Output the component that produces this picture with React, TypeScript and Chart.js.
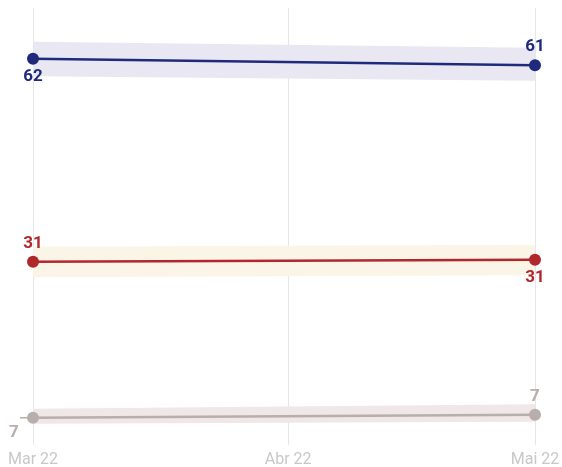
import React, { useEffect, useRef } from "react";
import { Chart, registerables } from "chart.js";

Chart.register(...registerables);

// x axis: days since 1 Mar 2022
const tickLabels = ["Mar 22", "Abr 22", "Mai 22"];
const tickDays = [0, 31, 61];
const pointDays = [0, 61]; // observations at Mar 22 and Mai 22

const blueValues = [62.2, 61.2];
const blueUpper = [64.8, 63.9];
const blueLower = [59.5, 58.8];

const redValues = [31.0, 31.3];
const redUpper = [33.3, 33.6];
const redLower = [28.6, 28.9];

const greyValues = [7.0, 7.45];
const greyUpper = [8.4, 9.1];
const greyLower = [6.1, 6.4];

const BLUE = "#1f2a7c";
const RED = "#b0282c";
const GREY = "#b8aeab";

// label placement per series: [Mar, Mai]
const labelPos: Record<string, string[]> = {
  blue: ["below", "above"],
  red: ["above", "below"],
  grey: ["belowLeft", "above"],
};

const toXY = (vals: number[]) => vals.map((y, i) => ({ x: pointDays[i], y }));

const valueLabels = {
  id: "valueLabels",
  afterDatasetsDraw(chart: any) {
    const ctx = chart.ctx;
    ctx.save();
    ctx.font = "bold 17px Roboto";
    ctx.textAlign = "center";
    ctx.textBaseline = "middle";
    chart.data.datasets.forEach((ds: any, i: number) => {
      if (!ds.seriesKey) return;
      const meta = chart.getDatasetMeta(i);
      const pos = labelPos[ds.seriesKey];
      ds.data.forEach((d: any, j: number) => {
        const el = meta.data[j];
        const p = pos[j];
        ctx.fillStyle = ds.borderColor;
        let x = el.x;
        let y = el.y;
        if (p === "above") y -= 18;
        else if (p === "below") y += 18;
        else {
          x -= 19;
          y += 15;
          ctx.strokeStyle = ds.borderColor;
          ctx.lineWidth = 1.5;
          ctx.beginPath();
          ctx.moveTo(el.x - 13, el.y);
          ctx.lineTo(el.x, el.y);
          ctx.stroke();
        }
        ctx.fillText(String(Math.round(d.y)), x, y);
      });
    });
    ctx.restore();
  },
};

function band(lower: number[], upper: number[], color: string) {
  return [
    {
      data: toXY(lower),
      borderWidth: 0,
      pointRadius: 0,
      fill: false,
      order: 5,
      borderColor: "transparent",
    },
    {
      data: toXY(upper),
      borderWidth: 0,
      pointRadius: 0,
      fill: "-1",
      backgroundColor: color,
      borderColor: "transparent",
      order: 5,
    },
  ];
}

function line(values: number[], color: string, key: string) {
  return {
    data: toXY(values),
    seriesKey: key,
    borderColor: color,
    backgroundColor: color,
    borderWidth: 2.5,
    pointRadius: 6,
    pointHoverRadius: 6,
    pointBackgroundColor: color,
    pointBorderWidth: 0,
    fill: false,
    clip: false,
    order: 1,
  };
}

export default function App() {
  const ref = useRef<HTMLCanvasElement>(null);
  useEffect(() => {
    const chart = new Chart(ref.current!, {
      type: "line",
      data: {
        datasets: [
          ...band(blueLower, blueUpper, "#e9e8f2"),
          ...band(redLower, redUpper, "#faf5e6"),
          ...band(greyLower, greyUpper, "#efe7e8"),
          line(blueValues, BLUE, "blue"),
          line(redValues, RED, "red"),
          line(greyValues, GREY, "grey"),
        ] as any,
      },
      options: {
        animation: false,
        responsive: false,
        layout: { padding: { left: 33, right: 27, top: 8, bottom: 0 } },
        plugins: { legend: { display: false }, tooltip: { enabled: false } },
        scales: {
          x: {
            type: "linear",
            min: tickDays[0],
            max: tickDays[tickDays.length - 1],
            border: { display: false },
            grid: { color: "#e6e6e6", lineWidth: 1, tickLength: 14 },
            afterBuildTicks: (scale: any) => {
              scale.ticks = tickDays.map((v) => ({ value: v }));
            },
            ticks: {
              color: "#c8c8c8",
              font: { family: "Roboto", size: 16 },
              padding: 6,
              maxRotation: 0,
              autoSkip: false,
              callback: (v: any) => tickLabels[tickDays.indexOf(Number(v))] ?? "",
            },
            afterFit: (scale: any) => {
              scale.paddingLeft = 0;
              scale.paddingRight = 0;
            },
          },
          y: {
            display: false,
            min: 5,
            max: 70,
          },
        },
      },
      plugins: [valueLabels],
    });
    return () => chart.destroy();
  }, []);
  return (
    <div
      style={{
        position: "absolute",
        left: 0,
        top: 0,
        width: 562,
        height: 467,
        overflow: "hidden",
      }}
    >
      <canvas ref={ref} width={562} height={476} style={{ display: "block" }} />
    </div>
  );
}
